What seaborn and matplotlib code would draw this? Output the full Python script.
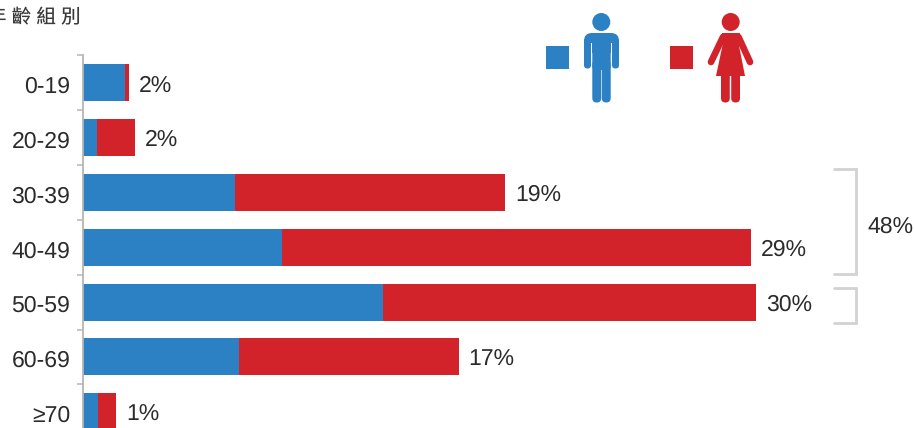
"""Repartition par groupe d'age et sexe."""

import matplotlib

matplotlib.use("Agg")
import matplotlib.pyplot as plt
import numpy as np
import pandas as pd
import seaborn as sns
from matplotlib.patches import Circle, FancyBboxPatch, Polygon, Rectangle
from matplotlib.transforms import ScaledTranslation

AGE_GROUPS = ["0-19", "20-29", "30-39", "40-49", "50-59", "60-69", "≥70"]
MALE = [1.88, 0.63, 6.82, 8.90, 13.42, 7.00, 0.65]
FEMALE = [0.18, 1.70, 12.10, 21.00, 16.72, 9.82, 0.85]
TOTAL_LABELS = ["2%", "2%", "19%", "29%", "30%", "17%", "1%"]
AXIS_TITLE = "年 齡 組 別"
GROUP_LABEL = "48%"

BLUE = "#2b81c3"
RED = "#d2232a"
GREY = "#b5b5b5"
BRACKET = "#d0d2d3"
TEXT = "#2b2b2b"
FONTS = ["Liberation Sans", "Noto Sans CJK TC", "DejaVu Sans"]
W, H = 914, 428


def draw_icons(over):
    """Dessine la legende avec les pictogrammes."""
    over.add_patch(Rectangle((546, 46), 23, 23, color=BLUE, lw=0))
    over.add_patch(Rectangle((670, 46), 23, 23, color=RED, lw=0))

    # homme
    over.add_patch(Circle((601.3, 22), 9, color=BLUE, lw=0))
    over.add_patch(FancyBboxPatch((592.3, 36), 18.4, 34, boxstyle="round,pad=0,rounding_size=3", color=BLUE, lw=0))
    over.add_patch(FancyBboxPatch((584, 33), 35, 20, boxstyle="round,pad=0,rounding_size=8", color=BLUE, lw=0))
    for x in (584, 612):
        over.add_patch(FancyBboxPatch((x, 40), 7, 28.5, boxstyle="round,pad=0,rounding_size=3.4", color=BLUE, lw=0))
    for x in (592.3, 601.8):
        over.add_patch(FancyBboxPatch((x, 60), 8.9, 42.5, boxstyle="round,pad=0,rounding_size=4.4", color=BLUE, lw=0))
    over.add_patch(Rectangle((591, 43), 1.3, 26, color="white", lw=0))
    over.add_patch(Rectangle((610.7, 43), 1.3, 26, color="white", lw=0))

    # femme
    over.add_patch(Circle((730.7, 22), 9, color=RED, lw=0))
    over.add_patch(Polygon([(722, 33), (740, 33), (738.5, 43), (745, 76), (716, 76), (723, 43)], color=RED, lw=0))
    for xs, ys in (([723, 711], [37, 62]), ([738.5, 750], [37, 62])):
        over.plot(xs, ys, color=RED, lw=4.8, solid_capstyle="round")
    for x in (721, 731.2):
        over.add_patch(FancyBboxPatch((x, 70), 8.8, 32.5, boxstyle="round,pad=0,rounding_size=4.3", color=RED, lw=0))


def draw_brackets(over):
    """Dessine les crochets du groupe 30-59 ans."""
    over.plot([834, 856, 856, 834], [169, 169, 274, 274], color=BRACKET, lw=2, solid_joinstyle="miter")
    over.plot([834, 856, 856, 834], [288, 288, 323, 323], color=BRACKET, lw=2, solid_joinstyle="miter")
    over.text(867.5, 227, GROUP_LABEL, fontsize=16.4, color=TEXT, va="center", ha="left")


def main():
    sns.set_style("white")
    plt.rcParams["font.family"] = FONTS
    plt.rcParams["text.hinting"] = "no_hinting"
    plt.rcParams["text.hinting_factor"] = 1

    df = pd.DataFrame({"age": AGE_GROUPS, "male": MALE, "female": FEMALE})
    df["total"] = df["male"] + df["female"]

    fig = plt.figure(figsize=(W / 100, H / 100), dpi=100)
    # 7 categories de 54.9 px
    top = 55
    height = 54.9 * 7
    ax = fig.add_axes([83 / W, 1 - (top + height) / H, 800 / W, height / H])

    bar_style = {"width": 0.675, "saturation": 1, "linewidth": 0, "edgecolor": "none"}
    sns.barplot(data=df, y="age", x="total", color=RED, ax=ax, **bar_style)
    sns.barplot(data=df, y="age", x="male", color=BLUE, ax=ax, **bar_style)

    ax.set_xlim(0, 800 / 22.33)
    ax.set_ylim(6.5, -0.5)
    ax.set_xlabel("")
    ax.set_ylabel("")
    ax.xaxis.set_visible(False)
    for side in ("top", "right", "bottom"):
        ax.spines[side].set_visible(False)
    ax.spines["left"].set_color(GREY)
    ax.spines["left"].set_linewidth(1.3)
    ax.set_yticks(range(len(AGE_GROUPS)), AGE_GROUPS)
    ax.set_yticks(np.arange(-0.5, 7), minor=True)
    ax.tick_params(axis="y", which="major", left=False, pad=5.6, labelsize=16.8, labelcolor=TEXT)
    ax.tick_params(axis="y", which="minor", left=True, length=4.5, width=1.1, color=GREY, direction="out")

    # les libelles sont un peu plus bas que le centre des barres
    shift = ScaledTranslation(0, -1.3 / 72, fig.dpi_scale_trans)
    for tick_label in ax.get_yticklabels():
        tick_label.set_transform(tick_label.get_transform() + shift)

    for i, label in enumerate(TOTAL_LABELS):
        ax.annotate(label, (df["total"][i], i), xytext=(7, -2.2), textcoords="offset points",
                    fontsize=16.4, color=TEXT, va="center", ha="left")

    over = fig.add_axes([0, 0, 1, 1], zorder=5)
    over.set_xlim(0, W)
    over.set_ylim(H, 0)
    over.axis("off")
    over.patch.set_alpha(0)
    draw_icons(over)
    draw_brackets(over)
    over.text(-13, 18.5, AXIS_TITLE, fontsize=14, color="#3a3a3a", va="center", ha="left")

    fig.savefig("out.png", dpi=100)


if __name__ == "__main__":
    main()
